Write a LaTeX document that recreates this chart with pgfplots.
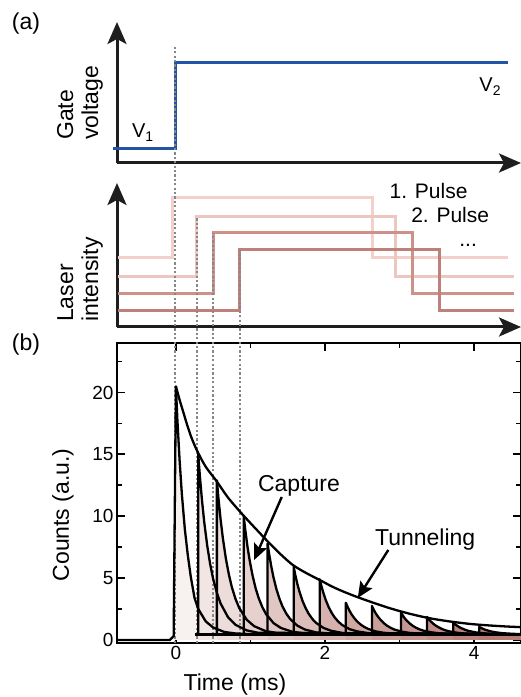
\documentclass[border=0pt]{standalone}
\usepackage{fontspec}
\setmainfont{Liberation Sans}
\usepackage{pgfplots}
\usepackage{pgfplotstable}
\pgfplotsset{compat=1.18}
\usetikzlibrary{arrows.meta}

\definecolor{gateblue}{RGB}{35,85,165}
\definecolor{capt}{RGB}{160,80,70}
\definecolor{las1}{RGB}{243,208,202}
\definecolor{las2}{RGB}{238,198,192}
\definecolor{las3}{RGB}{205,145,138}
\definecolor{las4}{RGB}{190,128,120}
\definecolor{axisblack}{RGB}{30,30,30}
\definecolor{dotgray}{RGB}{135,135,135}

\newcommand{\tlab}{\fontsize{23}{25}\selectfont}
\newcommand{\plab}{\fontsize{21}{24}\selectfont}

\pgfplotsset{
  panel/.style={scale only axis, anchor=south west, width=404pt,
    xmin=-0.79, xmax=4.63, ymin=0,
    axis lines=left, xtick=\empty, ytick=\empty, clip=false,
    axis line style={line width=3pt, draw=axisblack},
    x axis line style={-{Stealth[length=22pt,width=19pt,inset=5pt]}},
    y axis line style={-{Stealth[length=22pt,width=19pt,inset=5pt]}}},
  capfill/.style={draw=none, fill=capt!#1!white, forget plot},
  capline/.style={black, line width=2.3pt, line join=round, forget plot},
  pulse/.style={#1, line width=3pt},
}

% capture traces (time in ms, counts)
\pgfplotstableread{
t v
-0.79 0
-0.08 0
-0.03 0.3
0.00 20.5
0.02 17.8
0.05 14.5
0.08 11.8
0.12 8.95
0.16 6.85
0.20 5.10
0.25 3.40
0.30 2.50
0.40 1.50
0.50 1.00
0.65 0.64
0.80 0.52
1.00 0.47
4.63 0.45
}\trA
\pgfplotstableread{
t v
0.30 0.45
0.30 15.00
0.32 13.38
0.35 11.29
0.38 9.54
0.42 7.64
0.46 6.12
0.50 4.93
0.55 3.80
0.60 2.94
0.70 1.83
0.80 1.22
0.95 0.77
1.10 0.58
4.63 0.45
}\trB
\pgfplotstableread{
t v
0.55 0.45
0.55 12.90
0.57 11.52
0.60 9.73
0.63 8.23
0.67 6.60
0.71 5.31
0.75 4.28
0.80 3.31
0.85 2.58
0.95 1.63
1.05 1.11
1.20 0.72
1.35 0.56
4.63 0.45
}\trC
\pgfplotstableread{
t v
0.91 0.45
0.91 10.00
0.93 8.94
0.96 7.56
0.99 6.42
1.03 5.17
1.07 4.17
1.11 3.39
1.16 2.65
1.21 2.08
1.31 1.36
1.41 0.96
1.56 0.66
1.71 0.54
4.63 0.45
}\trD
\pgfplotstableread{
t v
1.23 0.45
1.23 7.80
1.25 6.98
1.28 5.93
1.31 5.04
1.35 4.08
1.39 3.32
1.43 2.71
1.48 2.14
1.53 1.71
1.63 1.15
1.73 0.84
1.88 0.61
2.03 0.52
4.63 0.45
}\trE
\pgfplotstableread{
t v
1.58 0.45
1.58 5.90
1.60 5.30
1.63 4.51
1.66 3.86
1.70 3.14
1.74 2.58
1.78 2.13
1.83 1.70
1.88 1.38
1.98 0.97
2.08 0.74
2.23 0.57
2.38 0.50
4.63 0.45
}\trF
\pgfplotstableread{
t v
1.93 0.45
1.93 4.90
1.95 4.41
1.98 3.77
2.01 3.23
2.05 2.65
2.09 2.19
2.13 1.82
2.18 1.47
2.23 1.21
2.33 0.87
2.43 0.69
2.58 0.55
2.73 0.49
4.63 0.45
}\trG
\pgfplotstableread{
t v
2.28 0.45
2.28 3.00
2.30 2.72
2.33 2.35
2.36 2.04
2.40 1.71
2.44 1.44
2.48 1.24
2.53 1.04
2.58 0.89
2.68 0.69
2.78 0.58
2.93 0.51
3.08 0.47
4.63 0.45
}\trH
\pgfplotstableread{
t v
2.63 0.45
2.63 2.75
2.65 2.49
2.68 2.16
2.71 1.89
2.75 1.59
2.79 1.35
2.83 1.16
2.88 0.98
2.93 0.84
3.03 0.67
3.13 0.57
3.28 0.50
3.43 0.47
4.63 0.45
}\trI
\pgfplotstableread{
t v
3.02 0.45
3.02 2.20
3.04 2.01
3.07 1.75
3.10 1.54
3.14 1.31
3.18 1.13
3.22 0.99
3.27 0.85
3.32 0.75
3.42 0.62
3.52 0.54
3.67 0.49
3.82 0.47
4.63 0.45
}\trJ
\pgfplotstableread{
t v
3.37 0.45
3.37 1.85
3.39 1.69
3.42 1.49
3.45 1.32
3.49 1.14
3.53 1.00
3.57 0.88
3.62 0.77
3.67 0.69
3.77 0.58
3.87 0.52
4.02 0.48
4.17 0.46
4.63 0.45
}\trK
\pgfplotstableread{
t v
3.72 0.45
3.72 1.40
3.74 1.29
3.77 1.16
3.80 1.04
3.84 0.92
3.88 0.82
3.92 0.74
3.97 0.67
4.02 0.61
4.12 0.54
4.22 0.50
4.37 0.47
4.63 0.45
}\trL
\pgfplotstableread{
t v
4.07 0.45
4.07 1.05
4.09 0.98
4.12 0.90
4.15 0.82
4.19 0.75
4.23 0.68
4.27 0.63
4.32 0.59
4.37 0.55
4.47 0.51
4.57 0.48
4.63 0.47
}\trM
% tunneling envelope
\pgfplotstableread{
t v
0.00 20.5
0.05 19.4
0.10 18.4
0.15 17.4
0.20 16.5
0.25 15.75
0.30 15.1
0.40 14.0
0.55 12.8
0.70 11.5
0.90 10.1
1.10 8.8
1.25 7.85
1.40 6.95
1.57 6.05
1.75 5.4
1.93 4.84
2.10 4.3
2.27 3.85
2.44 3.45
2.65 3.0
2.85 2.6
3.05 2.25
3.25 1.95
3.45 1.7
3.70 1.47
3.95 1.29
4.20 1.17
4.45 1.08
4.63 1.03
}\tunnel

\begin{document}
\begin{tikzpicture}
\path[use as bounding box] (0,0) rectangle (521pt,697pt);

\node[font=\tlab] at (26pt,673pt) {(a)};
\node[font=\tlab] at (26pt,352pt) {(b)};
\node[rotate=90, anchor=south west, align=left, inner sep=0pt, font=\tlab] at (103pt,557pt) {Gate\\voltage};
\node[rotate=90, anchor=south west, align=left, inner sep=0pt, font=\tlab] at (103pt,375pt) {Laser\\intensity};

% gate voltage
\begin{axis}[panel, at={(117pt,534pt)}, height=141pt, ymax=141]
\addplot[gateblue, line width=3pt] coordinates {(-0.84,14) (-0.01,14) (-0.01,100) (4.46,100)};
\node[anchor=base west, inner sep=0pt, font=\fontsize{20}{24}\selectfont] at (axis cs:-0.59,25) {V\textsubscript{1}};
\node[anchor=base west, inner sep=0pt, font=\fontsize{20}{24}\selectfont] at (axis cs:4.07,71) {V\textsubscript{2}};
\end{axis}

% laser pulses
\begin{axis}[panel, at={(117pt,370pt)}, height=144pt, ymax=144]
\addplot[pulse=las1] coordinates {(-0.77,69) (-0.04,69) (-0.04,129) (2.64,129) (2.64,69) (4.46,69)};
\addplot[pulse=las2] coordinates {(-0.77,50) (0.28,50) (0.28,110) (2.95,110) (2.95,50) (4.54,50)};
\addplot[pulse=las3] coordinates {(-0.77,33) (0.50,33) (0.50,94) (3.18,94) (3.18,33) (4.54,33)};
\addplot[pulse=las4] coordinates {(-0.77,16) (0.86,16) (0.86,77) (3.53,77) (3.53,16) (4.54,16)};
\node[font=\plab] at (axis cs:3.39,136) {1. Pulse};
\node[font=\plab] at (axis cs:3.68,112) {2. Pulse};
\node[font=\plab, anchor=base] at (axis cs:3.92,80) {...};
\end{axis}

% counts
\begin{axis}[scale only axis, anchor=south west, at={(117pt,54pt)},
  width=404pt, height=300pt,
  xmin=-0.79, xmax=4.63, ymin=-0.25, ymax=24,
  xtick={0,2,4}, minor xtick={1,3},
  ytick={0,5,10,15,20}, minor ytick={2.5,7.5,12.5,17.5,22.5},
  axis line style={line width=2.4pt},
  tick style={black, line width=1.8pt},
  major tick length=8pt, minor tick length=5pt,
  tick label style={font=\fontsize{19}{22}\selectfont},
  /pgf/number format/assume math mode=true,
  label style={font=\tlab},
  xlabel={Time (ms)}, ylabel={Counts (a.u.)},
  xlabel style={at={(axis description cs:0.292,-0.14)}, anchor=center},
  ylabel style={at={(axis description cs:-0.134,0.427)}, anchor=center},
  clip=false]
\addplot[capfill=8] table {\trA} \closedcycle;
\addplot[capfill=14] table {\trB} \closedcycle;
\addplot[capfill=20] table {\trC} \closedcycle;
\addplot[capfill=26] table {\trD} \closedcycle;
\addplot[capfill=32] table {\trE} \closedcycle;
\addplot[capfill=38] table {\trF} \closedcycle;
\addplot[capfill=44] table {\trG} \closedcycle;
\addplot[capfill=50] table {\trH} \closedcycle;
\addplot[capfill=55] table {\trI} \closedcycle;
\addplot[capfill=60] table {\trJ} \closedcycle;
\addplot[capfill=65] table {\trK} \closedcycle;
\addplot[capfill=70] table {\trL} \closedcycle;
\addplot[capfill=75] table {\trM} \closedcycle;

% guides to the pulse edges
\draw[dotgray, line width=2.2pt, dash pattern=on 2.2pt off 2.2pt] (axis cs:-0.01,-0.25) -- (axis cs:-0.01,48.1);
\draw[dotgray, line width=2.2pt, dash pattern=on 2.2pt off 2.2pt] (axis cs:0.28,-0.25) -- (axis cs:0.28,34.2);
\draw[dotgray, line width=2.2pt, dash pattern=on 2.2pt off 2.2pt] (axis cs:0.50,-0.25) -- (axis cs:0.50,32.9);
\draw[dotgray, line width=2.2pt, dash pattern=on 2.2pt off 2.2pt] (axis cs:0.86,-0.25) -- (axis cs:0.86,31.5);

\addplot[black, line width=3.5pt] coordinates {(0.25,0.45) (4.63,0.45)};
\addplot[capline] table {\trA};
\addplot[capline] table {\trB};
\addplot[capline] table {\trC};
\addplot[capline] table {\trD};
\addplot[capline] table {\trE};
\addplot[capline] table {\trF};
\addplot[capline] table {\trG};
\addplot[capline] table {\trH};
\addplot[capline] table {\trI};
\addplot[capline] table {\trJ};
\addplot[capline] table {\trK};
\addplot[capline] table {\trL};
\addplot[capline] table {\trM};
\addplot[black, line width=2.3pt, smooth] table {\tunnel};

\node[anchor=base west, inner sep=0pt, font=\tlab] at (axis cs:1.10,11.96) {Capture};
\draw[line width=2.4pt, -{Stealth[length=16pt,width=14pt,inset=3pt]}] (axis cs:1.42,11.55) -- (axis cs:1.05,6.46);
\node[anchor=base west, inner sep=0pt, font=\tlab] at (axis cs:2.67,7.67) {Tunneling};
\draw[line width=2.4pt, -{Stealth[length=16pt,width=14pt,inset=3pt]}] (axis cs:2.85,7.27) -- (axis cs:2.44,3.39);
\end{axis}
\end{tikzpicture}
\end{document}
